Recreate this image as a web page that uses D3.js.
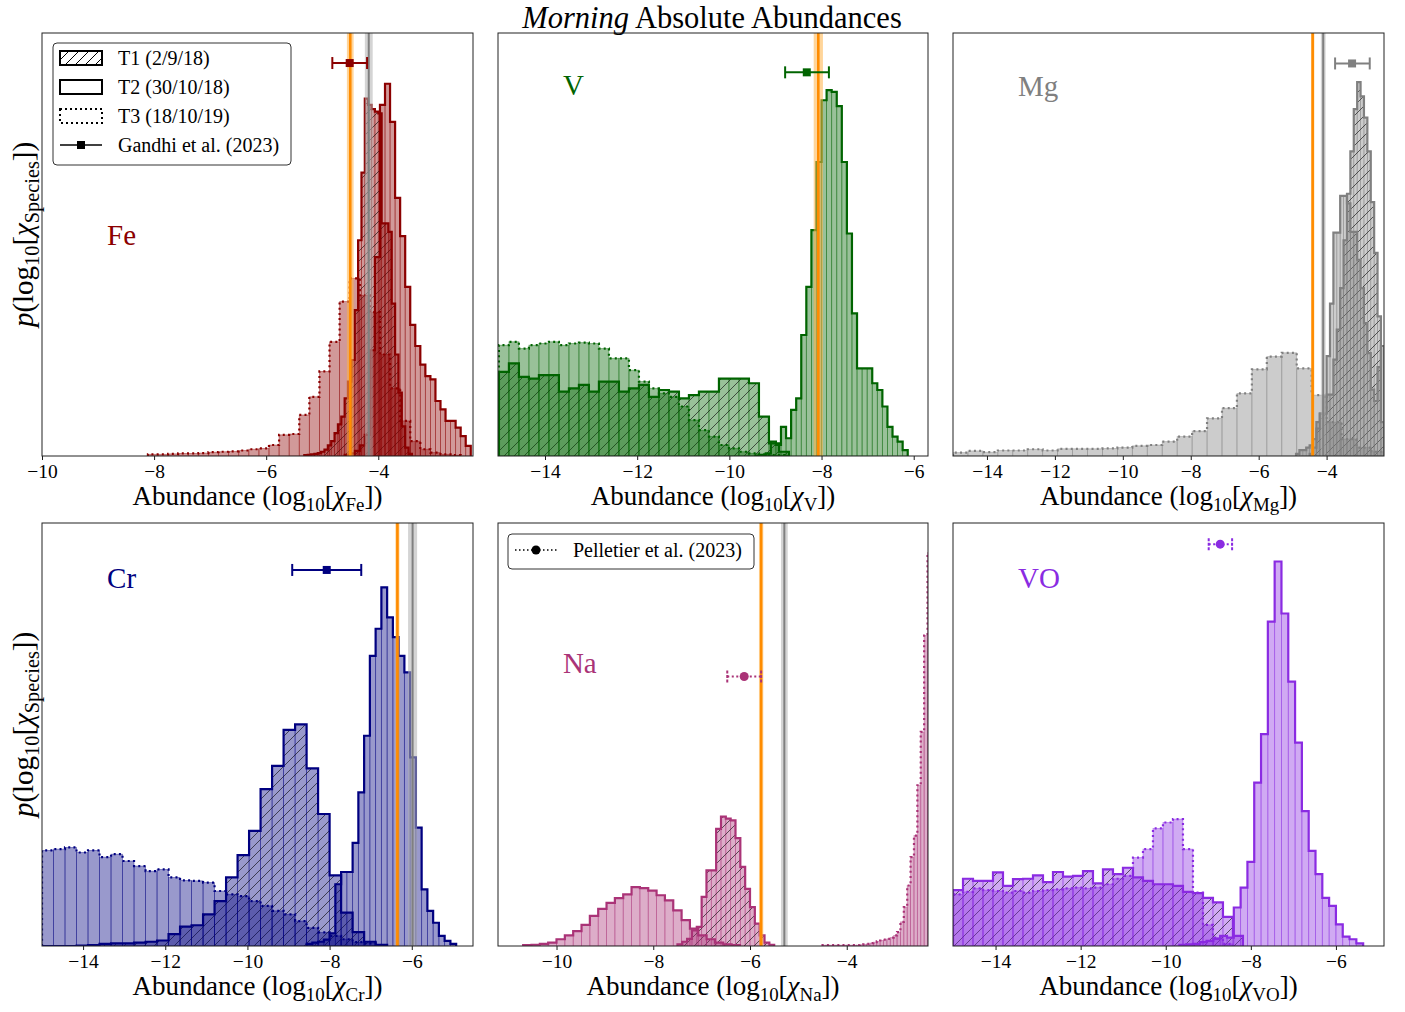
<!DOCTYPE html>
<html lang="en">
<head>
<meta charset="utf-8">
<title>Morning Absolute Abundances</title>
<script src="https://cdn.jsdelivr.net/npm/d3@7"></script>
<style>
  body { margin: 0; background: #fff; }
  svg { display: block; }
  text { font-family: "Liberation Serif", "Times New Roman", serif; fill: #000; }
</style>
</head>
<body>
<div id="chart"></div>
<script>
// ---- data ---------------------------------------------------------------
const species = ["Fe", "V", "Mg", "Cr", "Na", "VO"];
const speciesColor = ["#8b0000", "#006400", "#808080", "#000080", "#aa3377", "#8a2be2"];
const xDomains = [[-10, -2.31], [-15.02, -5.69], [-15, -2.31], [-15, -4.51], [-11.21, -2.32], [-15, -4.87]];
const xTicks = [[-10, -8, -6, -4], [-14, -12, -10, -8, -6], [-14, -12, -10, -8, -6, -4],
                [-14, -12, -10, -8, -6], [-10, -8, -6, -4], [-14, -12, -10, -8, -6]];
const epochLabels = ["T1 (2/9/18)", "T2 (30/10/18)", "T3 (18/10/19)"];

// histograms: first bin edge, bin width, heights (% of axis height)
const feT1 = {x0: -5.32, dx: 0.06, p: [0.2, 0.3, 0.4, 0.5, 0.7, 1.0, 1.5, 2.5, 3.5, 5.4, 7.5, 9.3, 13.6, 17.6, 22.7, 34.5, 51, 67, 84.5, 83, 82, 81.4, 81, 55, 55, 53, 36, 24, 15, 7, 2, 0.5]};
const feT2 = {x0: -4.60, dx: 0.09, p: [0.3, 0.6, 1.2, 2.5, 5, 25, 47, 83, 88, 79, 61, 52, 40, 31, 26, 21.6, 18.9, 18.1, 13, 11, 8.3, 8.3, 6.7, 4.7, 2.4]};
const feT3 = {x0: -8.11, dx: 0.18, p: [0.4, 0.4, 0.5, 0.6, 0.6, 0.7, 0.9, 1.0, 1.1, 1.3, 1.6, 1.8, 2.6, 5.0, 5.2, 9.7, 14, 20, 27, 36.5, 42, 38, 34, 24, 16, 8.3, 3.5, 1.6, 0.8, 0.4, 0.2]};

const vT1 = {x0: -15.0, dx: 0.217, p: [19.9, 21.9, 18.7, 18.3, 19.1, 19.1, 15.2, 16, 16.8, 15.2, 17.6, 17.6, 15.2, 16, 16.8, 14, 15.6, 15.2, 13.6, 14.4, 15.2, 15.2, 18.3, 18.3, 18.3, 17.2, 9.3, 3, 1]};
const vT2 = {x0: -9.43, dx: 0.11, p: [0.1, 0.3, 0.6, 3.4, 2.6, 6.9, 4.2, 10.9, 13.6, 28.6, 40, 53.4, 69.5, 84.1, 86.5, 86.1, 82.7, 69.5, 52.6, 33.7, 20.7, 20.7, 20.7, 17.2, 15.6, 11.7, 6.9, 4.6, 3.4, 1.4]};
const vT3 = {x0: -15.0, dx: 0.217, p: [26.2, 27, 25.4, 26.2, 26.6, 27, 26.2, 26.6, 26.8, 26.6, 25.4, 23.1, 23.1, 20.3, 17.6, 16, 14.8, 14, 11.7, 8.5, 6.1, 4.6, 2.6, 1.8, 1, 0.6, 0.4, 0.2, 0.2]};

const mgT1 = {x0: -4.5, dx: 0.1, p: [0.5, 2, 6.5, 10, 10, 14.5, 14.5, 22.8, 29.9, 39.7, 51, 62, 72, 82, 88.4, 85, 80, 72, 60, 48, 33, 8]};
const mgT2 = {x0: -4.9, dx: 0.1, p: [0.5, 1.4, 1.4, 2, 2.5, 4, 8, 10, 14, 23.6, 36, 52.8, 52.8, 61.5, 61.5, 59.7, 53, 53, 46.4, 39.7, 31.4, 24.3, 15.7, 13, 21, 26]};
const mgT3 = {x0: -15.0, dx: 0.44, p: [0.8, 1.2, 0.9, 1.3, 1.3, 1.6, 1.3, 1.7, 1.7, 1.7, 1.8, 2.0, 2.4, 2.6, 3.4, 4.6, 5.9, 8.9, 11.3, 14.8, 20.5, 23.5, 24.4, 20.7, 14.4, 8, 4, 2, 1]};

const crT1 = {x0: -15.0, dx: 0.28, p: [0, 0, 0, 0.1, 0.2, 0.5, 0.6, 0.6, 0.8, 1.0, 1.3, 2.8, 4.6, 4.9, 7.5, 10.6, 16.2, 21.5, 27.2, 37.1, 42.6, 51.1, 52.4, 42, 31.2, 16.7, 7.9, 3.3, 1.0, 0.3]};
const crT2 = {x0: -8.56, dx: 0.14, p: [0.5, 0.8, 1.0, 1.5, 3, 14.6, 17.5, 17.5, 24.4, 36.3, 49.7, 68.6, 75, 84.8, 77.7, 73, 68.6, 64.7, 44.6, 28, 13.4, 8.3, 5.5, 2.4, 1.2, 0.5]};
const crT3 = {x0: -15.0, dx: 0.28, p: [22.6, 22.9, 23.3, 22.1, 22.6, 21.0, 21.7, 20.1, 18.9, 17.7, 18.1, 16.2, 15.5, 15.4, 15.0, 13.0, 12.2, 11.8, 10.6, 9.5, 8.3, 7.5, 5.9, 4.3, 3.2, 2.4, 1.6, 0.9, 0.6, 0.2]};

const naT1 = {x0: -7.5, dx: 0.1, p: [0.4, 1.0, 1.7, 3.7, 4.5, 11.6, 17.9, 17.9, 27.7, 30.6, 30.1, 29.7, 25.5, 18.7, 13.5, 9.2, 5.3, 2.5, 0.8, 0.3]};
const naT2 = {x0: -10.69, dx: 0.1724, p: [0.2, 0.3, 0.5, 0.8, 1.6, 2.5, 3.5, 5.0, 7.1, 8.8, 10.2, 11.3, 12.2, 13.9, 13.7, 13.1, 12.0, 10.8, 8.4, 6.1, 4.1, 2.5, 1.6, 0.8, 0.4, 0.2]};
const naT3 = {x0: -4.5, dx: 0.07, p: [0.2, 0.2, 0.2, 0.2, 0.2, 0.2, 0.2, 0.2, 0.2, 0.2, 0.2, 0.3, 0.4, 0.5, 0.7, 0.9, 1.1, 1.3, 1.5, 1.7, 2.0, 2.5, 3.3, 5.7, 9.2, 14.3, 21, 26.1, 38, 50.6, 73.4, 93]};

const voT1 = {x0: -15.0, dx: 0.235, p: [13.2, 15.9, 15.4, 15.4, 17.4, 14.2, 15.8, 15.9, 16.7, 15.1, 17.5, 16.4, 16.6, 17.7, 14.8, 18.1, 17.0, 18.5, 16.2, 15.4, 14.6, 14.6, 14.2, 12.8, 12.5, 11.4, 10.3, 6.9, 2.4]};
const voT2 = {x0: -9.68, dx: 0.16, p: [0.3, 0.4, 0.5, 0.9, 1.2, 1.7, 2.4, 2.0, 9.1, 13.8, 19.9, 38.6, 50.1, 76.7, 90.9, 78.6, 62.5, 48.1, 31.9, 22.5, 17, 11.4, 9.5, 5.1, 2.2, 1.6, 0.6]};
const voT3 = {x0: -15.0, dx: 0.235, p: [12.2, 12.8, 13.6, 13.2, 13, 12.6, 13, 12.6, 13, 13.2, 13.4, 13.6, 13.8, 13.6, 13.8, 14.6, 15.9, 16.6, 20.9, 22.9, 27.8, 29.2, 30, 22.9, 12.6, 5, 2, 0.5]};

const hists = [[feT1, feT2, feT3], [vT1, vT2, vT3], [mgT1, mgT2, mgT3],
               [crT1, crT2, crT3], [naT1, naT2, naT3], [voT1, voT2, voT3]];

// vertical reference values [value, half width of band]
const orangeLine = [[-4.50, 0.06], [-8.07, 0.10], [-4.41, 0.05], [-6.35, 0.05], [-5.77, 0.045], null];
const greyLine = [[-4.17, 0.07], null, [-4.10, 0.07], [-5.98, 0.11], [-5.29, 0.07], null];
// literature values [centre, minus, plus, height (% of axis)]
const litPoint = [[-4.51, 0.31, 0.31, 92.9], [-8.32, 0.47, 0.48, 90.7], [-3.25, 0.50, 0.52, 92.8],
                  [-8.07, 0.84, 0.84, 88.9], [-6.12, 0.35, 0.35, 63.7], [-8.72, 0.27, 0.28, 95.0]];
const litSource = ["Gandhi et al. (2023)", "Pelletier et al. (2023)"];
const litWhich = [0, 0, 0, 0, 1, 1];

// ---- layout -------------------------------------------------------------
const W = 1405, H = 1012;
const cols = [[42, 473], [498, 928], [953, 1384]];
const rows = [[33, 456], [523, 946]];
const labelY = [0.501, 0.147, 0.149, 0.154, 0.355, 0.154];
const serif = '"Liberation Serif", "Times New Roman", serif';

const svg = d3.select("#chart").append("svg").attr("width", W).attr("height", H);
const defs = svg.append("defs");

function hatchPattern(id, opacity) {
  const p = defs.append("pattern").attr("id", id).attr("patternUnits", "userSpaceOnUse")
    .attr("width", 10).attr("height", 10);
  p.append("path").attr("d", "M-2,2 L2,-2 M0,10 L10,0 M8,12 L12,8")
    .attr("stroke", "#000").attr("stroke-width", 1).attr("stroke-opacity", opacity);
}
hatchPattern("hatch", 0.6);
hatchPattern("hatchLegend", 1);

// title
const title = svg.append("text").attr("x", 712).attr("y", 28).attr("text-anchor", "middle")
  .attr("font-size", 30.5);
title.append("tspan").attr("font-style", "italic").text("Morning");
title.append("tspan").text(" Absolute Abundances");

function subLabel(t, parts, drop) {
  // parts: [text, mode] mode: "n" normal, "i" italic, "s" subscript
  let down = false;
  parts.forEach(([txt, mode]) => {
    const s = t.append("tspan").text(txt);
    if (mode === "i") s.attr("font-style", "italic");
    if (mode === "s") { s.attr("font-size", "70%"); if (!down) { s.attr("dy", drop); down = true; } }
    else if (down) { s.attr("dy", -drop); down = false; }
  });
}

species.forEach((sp, i) => {
  const [xl, xr] = cols[i % 3];
  const [yt, yb] = rows[Math.floor(i / 3)];
  const col = speciesColor[i];
  const x = d3.scaleLinear().domain(xDomains[i]).range([xl, xr]);
  const y = d3.scaleLinear().domain([0, 100]).range([yb, yt]);

  defs.append("clipPath").attr("id", "clip" + i).append("rect")
    .attr("x", xl).attr("y", yt).attr("width", xr - xl).attr("height", yb - yt);

  const g = svg.append("g");
  const plot = g.append("g").attr("clip-path", `url(#clip${i})`);

  hists[i].forEach((h, t) => {
    const bins = h.p.map((v, k) => ({a: h.x0 + k * h.dx, b: h.x0 + (k + 1) * h.dx, v}));
    const nz = bins.filter(d => d.v > 0);
    plot.append("g").selectAll("rect").data(nz).join("rect")
      .attr("x", d => x(d.a)).attr("width", d => x(d.b) - x(d.a))
      .attr("y", d => y(d.v)).attr("height", d => y(0) - y(d.v))
      .attr("fill", col).attr("fill-opacity", 0.4)
      .attr("stroke", col).attr("stroke-opacity", 0.45).attr("stroke-width", 0.8);
    if (t === 0) {
      plot.append("g").selectAll("rect").data(nz).join("rect")
        .attr("x", d => x(d.a)).attr("width", d => x(d.b) - x(d.a))
        .attr("y", d => y(d.v)).attr("height", d => y(0) - y(d.v))
        .attr("fill", "url(#hatch)");
    }
    const pts = [[bins[0].a, 0]];
    bins.forEach(d => { pts.push([d.a, d.v]); pts.push([d.b, d.v]); });
    pts.push([bins[bins.length - 1].b, 0]);
    plot.append("path")
      .attr("d", d3.line().x(d => x(d[0])).y(d => y(d[1]))(pts))
      .attr("fill", "none").attr("stroke", col).attr("stroke-width", 2.2)
      .attr("stroke-linejoin", "miter")
      .attr("stroke-dasharray", t === 2 ? "2,3.2" : null);
  });

  // reference lines
  [[greyLine[i], "#808080", "#b0b0b0", 2], [orangeLine[i], "#ff8c00", "#ffb347", 2.6]].forEach(([ln, c, band, w]) => {
    if (!ln) return;
    plot.append("rect").attr("x", x(ln[0] - ln[1])).attr("width", x(ln[0] + ln[1]) - x(ln[0] - ln[1]))
      .attr("y", yt).attr("height", yb - yt).attr("fill", band).attr("fill-opacity", 0.55);
    plot.append("line").attr("x1", x(ln[0])).attr("x2", x(ln[0])).attr("y1", yt).attr("y2", yb)
      .attr("stroke", c).attr("stroke-width", w);
  });

  // literature point
  const lp = litPoint[i];
  const dotted = litWhich[i] === 1;
  const eb = g.append("g").attr("stroke", col).attr("stroke-width", 2);
  eb.append("line").attr("x1", x(lp[0] - lp[1])).attr("x2", x(lp[0] + lp[2]))
    .attr("y1", y(lp[3])).attr("y2", y(lp[3])).attr("stroke-dasharray", dotted ? "2,2.5" : null);
  [lp[0] - lp[1], lp[0] + lp[2]].forEach(v => {
    eb.append("line").attr("x1", x(v)).attr("x2", x(v)).attr("y1", y(lp[3]) - 6).attr("y2", y(lp[3]) + 6)
      .attr("stroke-dasharray", dotted ? "3,1.5" : null);
  });
  if (dotted) {
    g.append("circle").attr("cx", x(lp[0])).attr("cy", y(lp[3])).attr("r", 4.5).attr("fill", col);
  } else {
    g.append("rect").attr("x", x(lp[0]) - 4).attr("y", y(lp[3]) - 4).attr("width", 8).attr("height", 8).attr("fill", col);
  }

  // species name
  g.append("text").attr("x", xl + 0.151 * (xr - xl)).attr("y", yt + labelY[i] * (yb - yt))
    .attr("font-size", 29).style("fill", col).text(sp);

  // x axis
  const ax = g.append("g").attr("transform", `translate(0,${yb})`)
    .call(d3.axisBottom(x).tickValues(xTicks[i]).tickSize(4).tickPadding(4).tickFormat(d3.format("d")));
  ax.select(".domain").remove();
  ax.selectAll("line").attr("stroke", "#000").attr("stroke-width", 0.9);
  ax.selectAll("text").attr("font-size", 19.5).attr("font-family", serif).attr("fill", "#000");

  g.append("rect").attr("x", xl).attr("y", yt).attr("width", xr - xl).attr("height", yb - yt)
    .attr("fill", "none").attr("stroke", "#222").attr("stroke-width", 1);

  const xlab = g.append("text").attr("x", (xl + xr) / 2).attr("y", yb + 49)
    .attr("text-anchor", "middle").attr("font-size", 27);
  subLabel(xlab, [["Abundance (log", "n"], ["10", "s"], ["[", "n"], ["χ", "i"], [sp, "s"], ["])", "n"]], 6);

  if (i % 3 === 0) {
    const cy = (yt + yb) / 2 - 10;
    const ylab = g.append("text").attr("transform", `translate(33,${cy}) rotate(-90)`)
      .attr("text-anchor", "middle").attr("font-size", 29);
    subLabel(ylab, [["p", "i"], ["(log", "n"], ["10", "s"], ["[", "n"], ["χ", "i"], ["Species", "s"], ["])", "n"]], 6);
  }
});

// legend in first panel
(function () {
  const lg = svg.append("g");
  lg.append("rect").attr("x", 53).attr("y", 43).attr("width", 238).attr("height", 122).attr("rx", 4)
    .attr("fill", "#fff").attr("fill-opacity", 0.85).attr("stroke", "#333").attr("stroke-width", 1);
  const rowsY = [58, 87, 116, 145];
  epochLabels.forEach((lab, t) => {
    const cy = rowsY[t];
    lg.append("rect").attr("x", 60).attr("y", cy - 7).attr("width", 42).attr("height", 14)
      .attr("fill", t === 0 ? "url(#hatchLegend)" : "none").attr("stroke", "#000").attr("stroke-width", 2)
      .attr("stroke-dasharray", t === 2 ? "2,3" : null);
    lg.append("text").attr("x", 118).attr("y", cy + 7).attr("font-size", 20).text(lab);
  });
  const cy = rowsY[3];
  lg.append("line").attr("x1", 60).attr("x2", 102).attr("y1", cy).attr("y2", cy).attr("stroke", "#000").attr("stroke-width", 1.5);
  lg.append("rect").attr("x", 77).attr("y", cy - 4).attr("width", 8).attr("height", 8).attr("fill", "#000");
  lg.append("text").attr("x", 118).attr("y", cy + 7).attr("font-size", 20).text(litSource[0]);

  const lg2 = svg.append("g");
  lg2.append("rect").attr("x", 508).attr("y", 534).attr("width", 246).attr("height", 35).attr("rx", 4)
    .attr("fill", "#fff").attr("fill-opacity", 0.85).attr("stroke", "#333").attr("stroke-width", 1);
  lg2.append("line").attr("x1", 515).attr("x2", 557).attr("y1", 550).attr("y2", 550)
    .attr("stroke", "#000").attr("stroke-width", 1.5).attr("stroke-dasharray", "1.5,2.5");
  lg2.append("circle").attr("cx", 536).attr("cy", 550).attr("r", 4.5).attr("fill", "#000");
  lg2.append("text").attr("x", 573).attr("y", 557).attr("font-size", 20).text(litSource[1]);
})();
</script>
</body>
</html>
